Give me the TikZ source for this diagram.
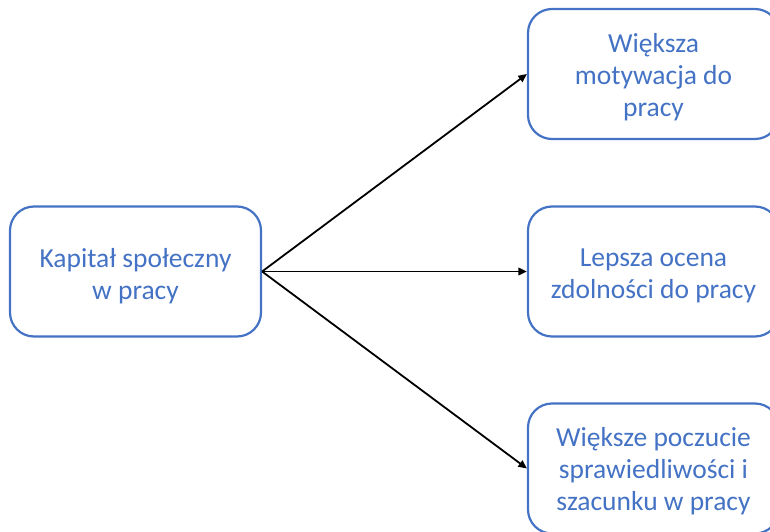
\documentclass[tikz,border=0pt]{standalone}
\usepackage{fontspec}
\setmainfont{Carlito}
\usetikzlibrary{arrows.meta}
\definecolor{boxblue}{HTML}{4472C4}
\begin{document}
\begin{tikzpicture}[x=1pt,y=-1pt,
  box/.style={draw=boxblue, line width=2.2pt, rounded corners=24pt,
    minimum width=251pt, minimum height=130pt, inner sep=0pt},
  caption/.style={text=boxblue, align=center, inner sep=0pt,
    font=\fontsize{27.5pt}{32pt}\selectfont},
  link/.style={draw=black, line width=1.8pt, -{Triangle[length=8.5pt,width=7.5pt]}}]
\useasboundingbox (0,0) rectangle (770,532);
\clip (0,0) rectangle (770,532);
% boxes
\node[box] (src) at (135.5,271.5) {};
\node[box] (mot) at (653.5,74) {};
\node[box] (ocn) at (653.5,271.5) {};
\node[box] (spr) at (653.5,468.5) {};
% texts, set slightly below the box centres
\node[caption] (srcT) at ([yshift=-4.5pt]src.center) {Kapitał społeczny\\w pracy};
\node[caption] (motT) at ([yshift=-3pt]mot.center) {Większa\\motywacja do\\pracy};
\node[caption] (ocnT) at ([yshift=-4.5pt]ocn.center) {Lepsza ocena\\zdolności do pracy};
\node[caption] (sprT) at ([yshift=-2.5pt]spr.center) {Większe poczucie\\sprawiedliwości i\\szacunku w pracy};
% connectors
\draw[link] (src.east) -- (mot.west);
\draw[link] (src.east) -- (ocn.west);
\draw[link] (src.east) -- (spr.west);
\end{tikzpicture}
\end{document}
